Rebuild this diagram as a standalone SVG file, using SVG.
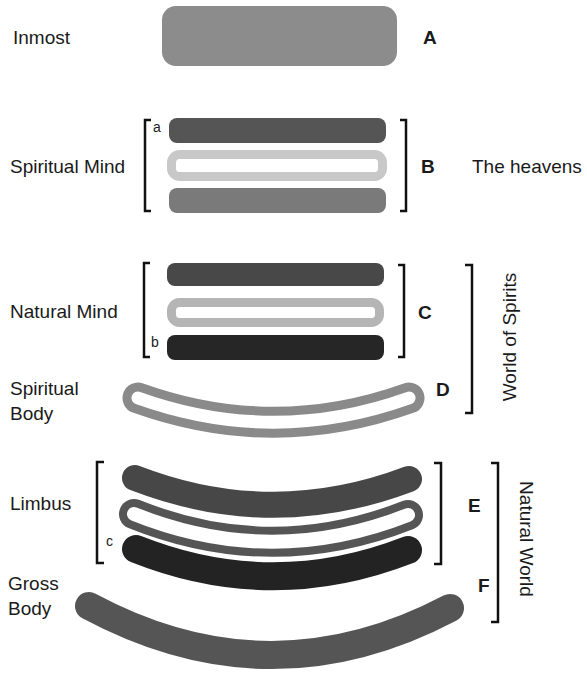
<svg xmlns="http://www.w3.org/2000/svg" width="587" height="673" viewBox="0 0 587 673">
<style>
text{font-family:"Liberation Sans",Arial,sans-serif;font-size:19px;fill:#1a1a1a}
.L{font-weight:bold}
.s{font-size:14px}
.br{fill:none;stroke:#111;stroke-width:2.5}
.cv{fill:none;stroke-linecap:round}
.w{stroke:#fff}
</style>
<rect width="587" height="673" fill="#fff"/>
<g id="inmost">
<rect x="162" y="6" width="235" height="60" rx="14" fill="#8c8c8c"/>
<text x="13" y="44">Inmost</text>
<text class="L" x="423" y="44">A</text>
</g>
<g id="spiritual-mind">
<rect x="169" y="118" width="217" height="25" rx="8" fill="#555"/>
<rect x="171.5" y="154.5" width="211" height="22" rx="8" fill="none" stroke="#c8c8c8" stroke-width="9"/>
<rect x="169" y="188" width="217" height="25" rx="8" fill="#7a7a7a"/>
<text x="10" y="173">Spiritual Mind</text>
<text class="s" x="153" y="132">a</text>
<text class="L" x="421" y="173">B</text>
<text x="472" y="173">The heavens</text>
</g>
<g id="natural-mind">
<rect x="167" y="263" width="217" height="23" rx="8" fill="#484848"/>
<rect x="171.5" y="302.5" width="208" height="20" rx="8" fill="none" stroke="#b5b5b5" stroke-width="9"/>
<rect x="167" y="335" width="217" height="25" rx="8" fill="#262626"/>
<text x="10" y="318">Natural Mind</text>
<text class="s" x="151" y="347">b</text>
<text class="L" x="418" y="319">C</text>
</g>
<g id="spiritual-body">
<path class="cv" d="M138,398 Q273.5,446.5 409,398" stroke="#8a8a8a" stroke-width="31"/>
<path class="cv w" d="M138,398 Q273.5,446.5 409,398" stroke-width="13"/>
<text x="10" y="395">Spiritual</text>
<text x="10" y="420">Body</text>
<text class="L" x="436" y="396">D</text>
</g>
<g id="limbus">
<path class="cv" d="M135,478 Q272,531 409,479" stroke="#474747" stroke-width="26"/>
<path class="cv" d="M134,514 Q271,569 408,515" stroke="#555" stroke-width="30"/>
<path class="cv w" d="M134,514 Q271,569 408,515" stroke-width="14"/>
<path class="cv" d="M136,549 Q272,603 408,550" stroke="#232323" stroke-width="28"/>
<text x="10" y="510">Limbus</text>
<text class="s" x="106" y="546">c</text>
<text class="L" x="468" y="512">E</text>
</g>
<g id="gross-body">
<path class="cv" d="M89,606 Q270,703 450,608" stroke="#555" stroke-width="28"/>
<text x="8" y="590">Gross</text>
<text x="8" y="615">Body</text>
<text class="L" x="478" y="592">F</text>
</g>
<g id="brackets">
<path class="br" d="M151,120 H145 V211 H151"/>
<path class="br" d="M400,120 H406 V211 H400"/>
<path class="br" d="M150,263 H144 V357 H150"/>
<path class="br" d="M398,265 H404 V357 H398"/>
<path class="br" d="M465,265 H472 V413 H465"/>
<path class="br" d="M104,462 H97 V563 H104"/>
<path class="br" d="M434,463 H441 V564 H434"/>
<path class="br" d="M491,463 H498 V622 H491"/>
</g>
<g id="world-labels">
<text transform="translate(516,337) rotate(-90)" text-anchor="middle">World of Spirits</text>
<text transform="translate(520,539) rotate(90)" text-anchor="middle">Natural World</text>
</g>
</svg>
